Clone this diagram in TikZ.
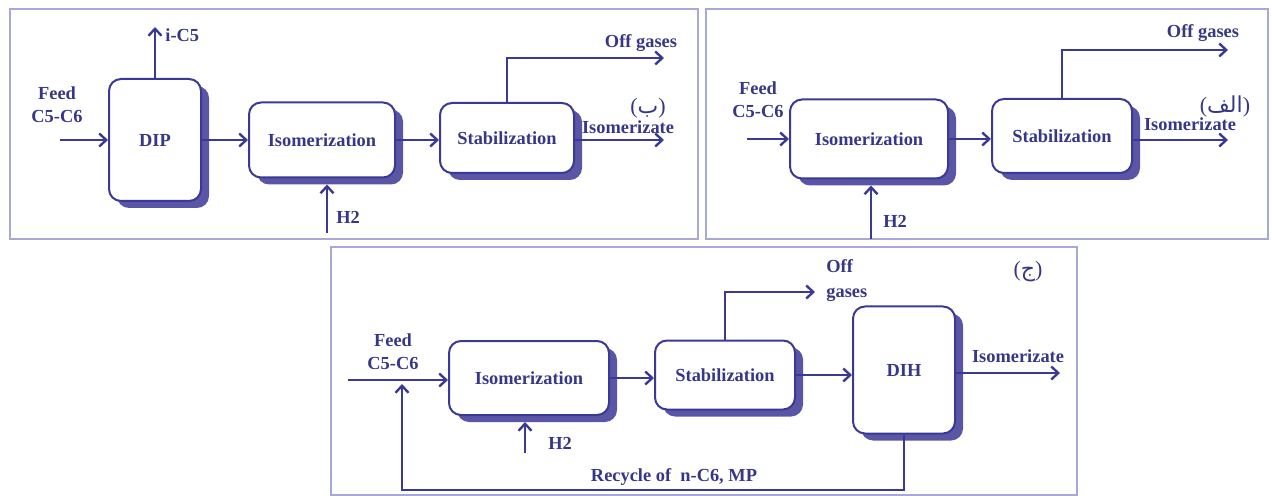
\documentclass[tikz,border=0pt]{standalone}
\usepackage{fontspec}
\setmainfont{Liberation Serif}
\newfontfamily\arabicfont[Script=Arabic]{DejaVu Sans}
\TeXXeTstate=1
\usetikzlibrary{arrows.meta,shadows}
\definecolor{linecol}{RGB}{58,58,150}
\definecolor{shadecol}{RGB}{90,86,165}
\definecolor{txtcol}{RGB}{55,55,135}
\definecolor{framecol}{RGB}{168,168,214}
\tikzset{
  unitbox/.style={draw=linecol, line width=1pt, fill=white, rounded corners=6pt,
    inner sep=0pt, text=txtcol, font=\fontsize{9.2}{11}\selectfont\bfseries,
    drop shadow={shadow xshift=4pt, shadow yshift=-3.5pt, opacity=1, fill=shadecol}},
  flow/.style={draw=linecol, line width=1.2pt, -{Straight Barb[length=3.5pt,width=6.5pt]}},
  tagtext/.style={text=txtcol, font=\fontsize{9.2}{11.5}\selectfont\bfseries, inner sep=1pt},
  artag/.style={text=txtcol, font=\fontsize{11}{13}\selectfont, inner sep=0pt},
  panelframe/.style={draw=framecol, line width=0.8pt},
}
\newcommand{\artxt}[1]{({\arabicfont\beginR #1\endR})}
\begin{document}
\begin{tikzpicture}[x=0.5pt,y=-0.5pt]
\useasboundingbox (0,0) rectangle (1272,496);
% frames
\draw[panelframe] (10,9) rectangle (698,239);
\draw[panelframe] (706,9) rectangle (1268,239);
\draw[panelframe] (331,247) rectangle (1077,495);

% panel (b)
\node[unitbox, minimum width=46pt, minimum height=61pt] (bdip) at (155,140) {DIP};
\node[unitbox, minimum width=73pt, minimum height=37.5pt] (biso) at (322,140) {Isomerization};
\node[unitbox, minimum width=67pt, minimum height=35pt] (bstab) at (507,138) {Stabilization};
\coordinate (bfeedin) at (60,140);
\coordinate (bic5) at (155,27);
\coordinate (bh2) at (327,233);
\coordinate (boff) at (664,58);
\coordinate (bout) at (664,140);
\draw[flow] (bfeedin) -- (bfeedin -| bdip.west);
\draw[flow] (bdip.east) -- (bdip.east -| biso.west);
\draw[flow] (biso.east) -- (biso.east -| bstab.west);
\draw[flow] (bdip.north) -- (bic5);
\draw[flow, shorten >=3pt] (bh2) -- (bh2 |- biso.south);
\draw[flow] (bstab.north) -- (bstab.north |- boff) -- (boff);
\draw[flow] (bout -| bstab.east) -- (bout);
\node[tagtext, align=center] (bfeed) at (57,105) {Feed\\C5-C6};
\node[tagtext, anchor=west] (bic5lbl) at (163,35) {i-C5};
\node[tagtext] (bh2lbl) at (348,217) {H2};
\node[tagtext] (bofflbl) at (641,43) {Off gases};
\node[tagtext] (boutlbl) at (628,127) {Isomerizate};
\node[artag] (btag) at (648,108) {\artxt{ب}};

% panel (alef)
\node[unitbox, minimum width=79pt, minimum height=39.5pt] (aiso) at (869,139) {Isomerization};
\node[unitbox, minimum width=70pt, minimum height=37pt] (astab) at (1062,136) {Stabilization};
\coordinate (afeedin) at (747,139);
\coordinate (ah2) at (871,239);
\coordinate (aoff) at (1228,50);
\coordinate (aout) at (1228,140);
\draw[flow] (afeedin) -- (afeedin -| aiso.west);
\draw[flow] (aiso.east) -- (aiso.east -| astab.west);
\draw[flow, shorten >=3pt] (ah2) -- (ah2 |- aiso.south);
\draw[flow] (astab.north) -- (astab.north |- aoff) -- (aoff);
\draw[flow] (aout -| astab.east) -- (aout);
\node[tagtext, align=center] (afeed) at (758,100) {Feed\\C5-C6};
\node[tagtext] (ah2lbl) at (895,221) {H2};
\node[tagtext] (aofflbl) at (1203,33) {Off gases};
\node[tagtext] (aoutlbl) at (1190,124) {Isomerizate};
\node[artag] (atag) at (1225,106) {\artxt{الف}};

% panel (jim)
\node[unitbox, minimum width=80pt, minimum height=37pt] (ciso) at (529,378) {Isomerization};
\node[unitbox, minimum width=70pt, minimum height=34.5pt] (cstab) at (725,375) {Stabilization};
\node[unitbox, minimum width=51pt, minimum height=63.5pt] (cdih) at (904,370) {DIH};
\coordinate (cfeedin) at (348,380);
\coordinate (cmix) at (402,380);
\coordinate (ch2) at (525,453);
\coordinate (coff) at (815,292);
\coordinate (cout) at (1060,373);
\coordinate (cback) at (0,490);
\draw[flow] (cfeedin) -- (cfeedin -| ciso.west);
\draw[flow] (ciso.east) -- (ciso.east -| cstab.west);
\draw[flow] (cstab.east) -- (cstab.east -| cdih.west);
\draw[flow, shorten >=3pt] (ch2) -- (ch2 |- ciso.south);
\draw[flow] (cstab.north) -- (cstab.north |- coff) -- (coff);
\draw[flow] (cout -| cdih.east) -- (cout);
\draw[flow, shorten >=2pt] (cdih.south) -- (cdih.south |- cback) -- (cmix |- cback) -- (cmix);
\node[tagtext, align=center] (cfeed) at (393,352) {Feed\\C5-C6};
\node[tagtext] (ch2lbl) at (560,443) {H2};
\node[tagtext, anchor=west, align=left] (cofflbl) at (824,281) {Off\\[1pt]gases};
\node[tagtext] (coutlbl) at (1018,356) {Isomerizate};
\node[tagtext] (crecycle) at (674,477) {Recycle of \ n-C6, MP};
\node[artag] (ctag) at (1028,272) {\artxt{ج}};
\end{tikzpicture}
\end{document}
